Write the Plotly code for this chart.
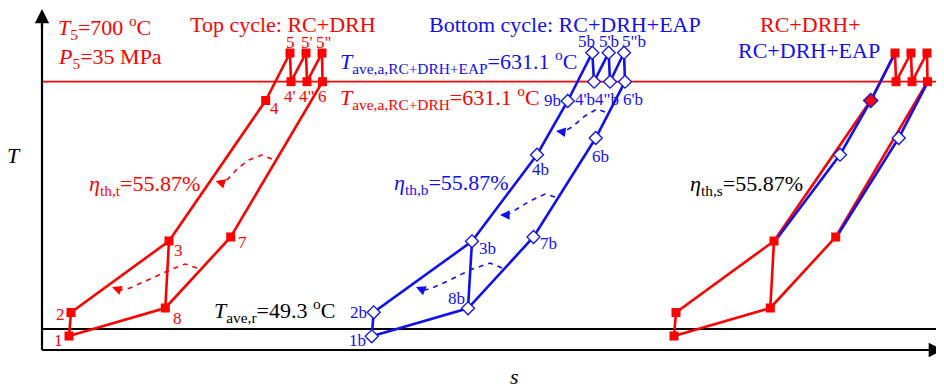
import plotly.graph_objects as go

# ---------------- data (schematic T-s state points) ----------------
# Top cycle (RC+DRH), red
top_names = ["1", "2", "3", "4", "5", "4'", "5'", '4"', '5"', "6", "7", "8"]
top_s = [69, 71, 169, 265.7, 290, 291, 306, 307, 322, 322.5, 230.7, 165.3]
top_T = [55, 78.5, 150, 290.5, 338, 309.3, 338, 309.3, 338, 309.3, 154, 83]

# Bottom cycle (RC+DRH+EAP), blue
bot_names = ["1b", "2b", "3b", "4b", "9b", "5b", "4'b", "5'b", '4"b', '5"b', "6'b", "6b", "7b", "8b"]
bot_s = [371.7, 373.7, 472, 537, 567.7, 592.3, 594, 608.7, 610, 624, 625, 595.7, 533.5, 468]
bot_T = [54.7, 78.7, 149.7, 236.3, 290, 338.3, 309.3, 338.3, 309.3, 338.3, 309.3, 253, 154, 82.7]

# reference levels
T_ave_a = 309.3   # 631.1 oC line
T_ave_r = 62      # 49.3 oC line
s_axis0 = 42
T_axis0 = 41
s_max = 944
T_max = 382

# dashed heat-flow arcs (s, T)
arc_top_hi_s = [272, 262, 249, 238, 228, 222]
arc_top_hi_T = [232, 236, 231, 223, 212, 208]
arc_top_lo_s = [197, 185, 170, 150, 130, 120]
arc_top_lo_T = [123, 127, 121, 112, 103, 101]
arc_bot_hi_s = [605, 597, 585, 572, 563]
arc_bot_hi_T = [279, 282, 275, 264, 259]
arc_bot_mid_s = [555, 545, 530, 515, 507]
arc_bot_mid_T = [194, 197, 190, 181, 176]
arc_bot_lo_s = [502, 490, 470, 450, 430, 423]
arc_bot_lo_T = [123, 128, 121, 111, 102, 101]
arrow_tips = {  # (tip s, tip T) on the heat-addition line
    "top_hi": (215.5, 210), "top_lo": (112, 104),
    "bot_hi": (556, 260), "bot_mid": (500, 176), "bot_lo": (416, 104),
}

# panel shifts along s for the combined (right) diagram
shift_top = 605
shift_bot = 303

RED = "#FF0000"
BLUE = "#1010F0"
FONT = "Liberation Serif"

top = {n: (s, t) for n, s, t in zip(top_names, top_s, top_T)}
bot = {n: (s, t) for n, s, t in zip(bot_names, bot_s, bot_T)}


def path(d, names, dx=0):
    return [d[n][0] + dx for n in names], [d[n][1] for n in names]


top_loop = ["1", "2", "3", "4", "5", "4'", "5'", '4"', '5"', "6", "7", "8", "1"]
top_cross = ["3", "8"]
bot_loop = ["1b", "2b", "3b", "4b", "9b", "5b", "4'b", "5'b", '4"b', '5"b', "6'b", "6b", "7b", "8b", "1b"]
bot_cross = ["3b", "8b"]

fig = go.Figure()


def line(xs, ys, color, width=2.6, dash=None):
    fig.add_trace(go.Scatter(x=xs, y=ys, mode="lines",
                             line=dict(color=color, width=width, dash=dash),
                             hoverinfo="skip", showlegend=False, cliponaxis=False))


def marks(xs, ys, symbol, color, fill, size, lw):
    fig.add_trace(go.Scatter(x=xs, y=ys, mode="markers",
                             marker=dict(symbol=symbol, size=size, color=fill,
                                         line=dict(color=color, width=lw)),
                             hoverinfo="skip", showlegend=False, cliponaxis=False))


# reference lines
line([s_axis0, s_max], [T_ave_a, T_ave_a], RED, 1.8)
line([s_axis0, s_max], [T_ave_r, T_ave_r], "black", 2)
line([s_axis0, s_max], [T_axis0, T_axis0], "black", 2.2)
line([s_axis0, s_axis0], [T_axis0, T_max - 15], "black", 2.2)

# left: top cycle
for seg in (top_loop, top_cross):
    line(*path(top, seg), RED)
# middle: bottom cycle
for seg in (bot_loop, bot_cross):
    line(*path(bot, seg), BLUE)

# dashed arcs
for xs, ys, c in [(arc_top_hi_s, arc_top_hi_T, RED), (arc_top_lo_s, arc_top_lo_T, RED),
                  (arc_bot_hi_s, arc_bot_hi_T, BLUE), (arc_bot_mid_s, arc_bot_mid_T, BLUE),
                  (arc_bot_lo_s, arc_bot_lo_T, BLUE)]:
    line(xs, ys, c, 1.6, "5px,5px")

# right: combined
for seg in (top_loop, top_cross):
    line(*path(top, seg, shift_top), RED)
for seg in (["3b", "4b", "9b", "5b"], ["6'b", "6b", "7b"]):
    line(*path(bot, seg, shift_bot), BLUE)

# markers
marks(top_s, top_T, "square", RED, RED, 9, 0)
marks(bot_s, bot_T, "diamond", BLUE, "white", 10, 1.3)
rn = [n for n in top_names if n != "4"]
marks(*path(top, rn, shift_top), "square", RED, RED, 9, 0)
marks(*path(top, ["4"], shift_top), "diamond", BLUE, RED, 11, 1.3)
marks(*path(bot, ["4b", "6b"], shift_bot), "diamond", BLUE, "white", 10, 1.3)

ann = []
# arrow heads of the dashed arcs
for key, (xs, ys) in {"top_hi": (arc_top_hi_s, arc_top_hi_T), "top_lo": (arc_top_lo_s, arc_top_lo_T),
                      "bot_hi": (arc_bot_hi_s, arc_bot_hi_T), "bot_mid": (arc_bot_mid_s, arc_bot_mid_T),
                      "bot_lo": (arc_bot_lo_s, arc_bot_lo_T)}.items():
    c = RED if key.startswith("top") else BLUE
    tx, ty = arrow_tips[key]
    ann.append(dict(x=tx, y=ty, ax=xs[-1], ay=ys[-1], axref="x", ayref="y", xref="x", yref="y",
                    text="", showarrow=True, arrowhead=2, arrowsize=1.2, arrowwidth=1.6,
                    arrowcolor=c, standoff=0))

# axis arrows
ann.append(dict(x=s_axis0, y=T_max, ax=s_axis0, ay=T_max - 20, axref="x", ayref="y",
                text="", showarrow=True, arrowhead=2, arrowsize=1.3, arrowwidth=2.2, arrowcolor="black"))
ann.append(dict(x=s_max - 1, y=T_axis0, ax=s_max - 20, ay=T_axis0, axref="x", ayref="y",
                text="", showarrow=True, arrowhead=2, arrowsize=1.3, arrowwidth=2.2, arrowcolor="black"))

# point labels
top_off = {"1": (-11, -4), "2": (-11, -2), "3": (9, -9), "4": (9, -8), "5": (0, 11), "5'": (1, 11),
           '5"': (1, 11), "4'": (-1, -15), '4"': (-1, -15), "6": (0, -15), "7": (12, -5), "8": (12, -10)}
bot_off = {"5b": (-6, 11), "5'b": (0, 11), '5"b': (10, 11), "9b": (-15, 1), "4'b": (-9, -18),
           '4"b': (-3, -18), "6'b": (8, -18), "4b": (3, -15), "6b": (5, -18), "3b": (15, -7),
           "7b": (15, -6), "8b": (-12, 10), "2b": (-15, 0), "1b": (-14, -4)}
for n, (dx, dy) in top_off.items():
    ann.append(dict(x=top[n][0], y=top[n][1], xshift=dx, yshift=dy, text=n, showarrow=False,
                    font=dict(family=FONT, size=17, color=RED)))
for n, (dx, dy) in bot_off.items():
    ann.append(dict(x=bot[n][0], y=bot[n][1], xshift=dx, yshift=dy, text=n, showarrow=False,
                    font=dict(family=FONT, size=17, color=BLUE)))

# text labels
def txt(x, y, t, color, anchor="left", size=22):
    ann.append(dict(x=x, y=y, text=t, showarrow=False, xanchor=anchor, yanchor="middle",
                    font=dict(family=FONT, size=size, color=color)))


deg = "<sup>o</sup>C"
txt(56, 364, "<i>T</i><sub>5</sub>=700 " + deg, RED)
txt(56, 333, "<i>P</i><sub>5</sub>=35 MPa", RED)
txt(188, 367, "Top cycle: RC+DRH", RED)
txt(427, 367, "Bottom cycle: RC+DRH+EAP", BLUE)
txt(810, 367, "RC+DRH+", RED, "center")
txt(809, 341, "RC+DRH+EAP", BLUE, "center")
txt(338, 330, "<i>T</i><sub>ave,a,RC+DRH+EAP</sub>=631.1 " + deg, BLUE)
txt(338, 294, "<i>T</i><sub>ave,a,RC+DRH</sub>=631.1 " + deg, RED)
txt(87, 206, "<i>η</i><sub>th,t</sub>=55.87%", RED)
txt(392, 207, "<i>η</i><sub>th,b</sub>=55.87%", BLUE)
txt(688, 206, "<i>η</i><sub>th,s</sub>=55.87%", "black")
txt(212, 81, "<i>T</i><sub>ave,r</sub>=49.3 " + deg, "black")
txt(14, 236, "<i>T</i>", "black", "center")
txt(514, 15, "<i>s</i>", "black", "center")

# page body adds an 8px offset: size figure and ranges so s,T map onto the intended canvas
fig.update_layout(
    width=936, height=383, margin=dict(l=0, r=0, t=0, b=0),
    plot_bgcolor="white", paper_bgcolor="white",
    xaxis=dict(range=[8, 944], visible=False, fixedrange=True),
    yaxis=dict(range=[0, 383], visible=False, fixedrange=True),
    annotations=ann, showlegend=False,
)
fig.write_html("out.html")
